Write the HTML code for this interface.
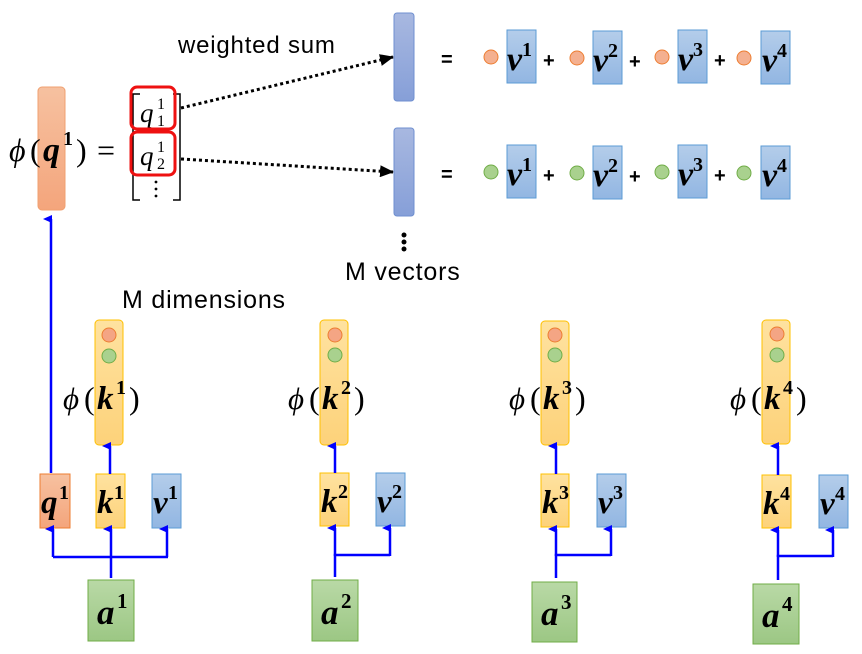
<!DOCTYPE html>
<html><head><meta charset="utf-8"><style>
html,body{margin:0;padding:0;background:#fff;}
svg{display:block;}
.m{font-family:"Liberation Serif",serif;font-style:italic;font-weight:bold;fill:#000;}
.p{font-family:"Liberation Serif",serif;font-style:italic;fill:#000;}
.r{font-family:"Liberation Serif",serif;fill:#000;}
.b{font-family:"Liberation Serif",serif;font-weight:bold;fill:#000;}
.s{font-family:"Liberation Sans",sans-serif;fill:#000;}
</style></head><body>
<svg width="862" height="654" viewBox="0 0 862 654" xmlns="http://www.w3.org/2000/svg">
<defs>
<linearGradient id="go" x1="0" y1="0" x2="0" y2="1"><stop offset="0" stop-color="#f6c1a0"/><stop offset="1" stop-color="#f4a57c"/></linearGradient>
<linearGradient id="gy" x1="0" y1="0" x2="0" y2="1"><stop offset="0" stop-color="#fee2a0"/><stop offset="1" stop-color="#fdd27a"/></linearGradient>
<linearGradient id="gb" x1="0" y1="0" x2="0" y2="1"><stop offset="0" stop-color="#b4cdea"/><stop offset="1" stop-color="#92b6e2"/></linearGradient>
<linearGradient id="gg" x1="0" y1="0" x2="0" y2="1"><stop offset="0" stop-color="#b9d9a6"/><stop offset="1" stop-color="#9cc784"/></linearGradient>
<linearGradient id="gd" x1="0" y1="0" x2="0" y2="1"><stop offset="0" stop-color="#a8b8e0"/><stop offset="1" stop-color="#869fd8"/></linearGradient>
<marker id="ab" markerWidth="8" markerHeight="9" refX="4" refY="8" orient="auto-start-reverse" markerUnits="userSpaceOnUse" viewBox="0 0 8 9"><path d="M0,9 L4,0 L8,9z" fill="#0000ff"/></marker>
<marker id="ak" markerWidth="14" markerHeight="12" refX="13" refY="6" orient="auto" markerUnits="userSpaceOnUse"><path d="M0,0 L14,6 L0,12z" fill="#000"/></marker>
</defs>

<!-- top left -->
<rect x="38" y="87" width="27" height="123" rx="4" fill="url(#go)" stroke="#f0a070" stroke-width="1"/>
<text x="9" y="161" class="p" font-size="32">ϕ</text>
<text x="30" y="161" class="r" font-size="32">(</text>
<text x="43" y="161" class="m" font-size="34">q</text>
<text x="63" y="145" class="b" font-size="20">1</text>
<text x="76" y="161" class="r" font-size="32">)</text>
<text x="97" y="161" class="r" font-size="32">=</text>
<!-- bracket -->
<path d="M140,94 L133,94 L133,200 L140,200" fill="none" stroke="#000" stroke-width="1.5"/>
<path d="M173,94 L180,94 L180,200 L173,200" fill="none" stroke="#000" stroke-width="1.5"/>
<text x="140" y="122" class="p" font-size="27">q</text>
<text x="157" y="109" class="r" font-size="16">1</text>
<text x="157" y="126" class="r" font-size="16">1</text>
<text x="140" y="165" class="p" font-size="27">q</text>
<text x="157" y="152" class="r" font-size="16">1</text>
<text x="157" y="169" class="r" font-size="16">2</text>
<circle cx="156" cy="182" r="1.4" fill="#000"/><circle cx="156" cy="189" r="1.4" fill="#000"/><circle cx="156" cy="196" r="1.4" fill="#000"/>
<rect x="131" y="87" width="44" height="42" rx="6" fill="none" stroke="#ee1111" stroke-width="3"/>
<rect x="131" y="132" width="44" height="43" rx="6" fill="none" stroke="#ee1111" stroke-width="3"/>
<line x1="181" y1="108" x2="393" y2="57" stroke="#000" stroke-width="3" stroke-dasharray="3,3" marker-end="url(#ak)"/>
<line x1="181" y1="159" x2="393" y2="172" stroke="#000" stroke-width="3" stroke-dasharray="3,3" marker-end="url(#ak)"/>
<text x="178" y="53" class="s" font-size="24" letter-spacing="0.8">weighted sum</text>
<rect x="394" y="13" width="20" height="88" rx="3" fill="url(#gd)" stroke="#6f8fd0"/>
<rect x="394" y="128" width="20" height="88" rx="3" fill="url(#gd)" stroke="#6f8fd0"/>
<circle cx="404" cy="235" r="2.5" fill="#000"/><circle cx="404" cy="242" r="2.5" fill="#000"/><circle cx="404" cy="249" r="2.5" fill="#000"/>
<text x="345" y="280" class="s" font-size="25" letter-spacing="0.8">M vectors</text>
<text x="122" y="308" class="s" font-size="25" letter-spacing="0.8">M dimensions</text>

<!-- right equations -->
<g>
<text x="441" y="66" class="s" font-size="20" font-weight="bold">=</text>
<circle cx="491" cy="57" r="7" fill="#f4b090" stroke="#ed7d31"/>
<rect x="507" y="30" width="29" height="53" fill="url(#gb)" stroke="#5b9bd5"/>
<text x="507" y="70" class="m" font-size="34">v</text><text x="522" y="56" class="b" font-size="20">1</text>
<text x="543" y="67" class="s" font-size="20" font-weight="bold">+</text>
<circle cx="577" cy="58" r="7" fill="#f4b090" stroke="#ed7d31"/>
<rect x="593" y="31" width="29" height="53" fill="url(#gb)" stroke="#5b9bd5"/>
<text x="593" y="71" class="m" font-size="34">v</text><text x="608" y="57" class="b" font-size="20">2</text>
<text x="629" y="68" class="s" font-size="20" font-weight="bold">+</text>
<circle cx="662" cy="57" r="7" fill="#f4b090" stroke="#ed7d31"/>
<rect x="678" y="30" width="29" height="53" fill="url(#gb)" stroke="#5b9bd5"/>
<text x="678" y="70" class="m" font-size="34">v</text><text x="693" y="56" class="b" font-size="20">3</text>
<text x="714" y="67" class="s" font-size="20" font-weight="bold">+</text>
<circle cx="744" cy="58" r="7" fill="#f4b090" stroke="#ed7d31"/>
<rect x="761" y="31" width="29" height="53" fill="url(#gb)" stroke="#5b9bd5"/>
<text x="762" y="71" class="m" font-size="34">v</text><text x="777" y="57" class="b" font-size="20">4</text>
</g>
<g transform="translate(0,115)">
<text x="441" y="66" class="s" font-size="20" font-weight="bold">=</text>
<circle cx="491" cy="57" r="7" fill="#a9d18e" stroke="#70ad47"/>
<rect x="507" y="30" width="29" height="53" fill="url(#gb)" stroke="#5b9bd5"/>
<text x="507" y="70" class="m" font-size="34">v</text><text x="522" y="56" class="b" font-size="20">1</text>
<text x="543" y="67" class="s" font-size="20" font-weight="bold">+</text>
<circle cx="577" cy="58" r="7" fill="#a9d18e" stroke="#70ad47"/>
<rect x="593" y="31" width="29" height="53" fill="url(#gb)" stroke="#5b9bd5"/>
<text x="593" y="71" class="m" font-size="34">v</text><text x="608" y="57" class="b" font-size="20">2</text>
<text x="629" y="68" class="s" font-size="20" font-weight="bold">+</text>
<circle cx="662" cy="57" r="7" fill="#a9d18e" stroke="#70ad47"/>
<rect x="678" y="30" width="29" height="53" fill="url(#gb)" stroke="#5b9bd5"/>
<text x="678" y="70" class="m" font-size="34">v</text><text x="693" y="56" class="b" font-size="20">3</text>
<text x="714" y="67" class="s" font-size="20" font-weight="bold">+</text>
<circle cx="744" cy="58" r="7" fill="#a9d18e" stroke="#70ad47"/>
<rect x="761" y="31" width="29" height="53" fill="url(#gb)" stroke="#5b9bd5"/>
<text x="762" y="71" class="m" font-size="34">v</text><text x="777" y="57" class="b" font-size="20">4</text>
</g>

<!-- q line -->
<line x1="51" y1="473" x2="51" y2="219" stroke="#0000ff" stroke-width="2.5" marker-end="url(#ab)"/>

<!-- group 1 -->
<rect x="95" y="320" width="28" height="125" rx="4" fill="url(#gy)" stroke="#ffc000"/>
<circle cx="109" cy="335" r="7" fill="#f4a584" stroke="#ed7d31"/>
<circle cx="109" cy="356" r="7" fill="#a9d18e" stroke="#70ad47"/>
<text x="63" y="409" class="p" font-size="31">ϕ</text><text x="84" y="409" class="r" font-size="32">(</text>
<text x="97" y="409" class="m" font-size="33">k</text><text x="116" y="394" class="b" font-size="20">1</text>
<text x="129" y="409" class="r" font-size="32">)</text>
<rect x="40" y="474" width="30" height="54" fill="url(#go)" stroke="#ed7d31"/>
<text x="41" y="513" class="m" font-size="33">q</text><text x="59" y="499" class="b" font-size="20">1</text>
<rect x="96" y="474" width="29" height="54" fill="url(#gy)" stroke="#ffc000"/>
<text x="97" y="513" class="m" font-size="33">k</text><text x="114" y="499" class="b" font-size="20">1</text>
<rect x="152" y="474" width="29" height="54" fill="url(#gb)" stroke="#5b9bd5"/>
<text x="153" y="513" class="m" font-size="33">v</text><text x="168" y="499" class="b" font-size="20">1</text>
<rect x="88" y="580" width="46" height="61" fill="url(#gg)" stroke="#70ad47"/>
<text x="97" y="624" class="m" font-size="35">a</text><text x="117" y="608" class="b" font-size="21">1</text>
<line x1="110" y1="474" x2="110" y2="446" stroke="#0000ff" stroke-width="2.5" marker-end="url(#ab)"/>
<path d="M111,578 L111,557" stroke="#0000ff" stroke-width="2.5"/>
<path d="M53,557 L168,557" stroke="#0000ff" stroke-width="2.5" fill="none"/>
<line x1="53" y1="557" x2="53" y2="529" stroke="#0000ff" stroke-width="2.5" marker-end="url(#ab)"/>
<line x1="111" y1="557" x2="111" y2="529" stroke="#0000ff" stroke-width="2.5" marker-end="url(#ab)"/>
<line x1="167" y1="557" x2="167" y2="529" stroke="#0000ff" stroke-width="2.5" marker-end="url(#ab)"/>

<!-- group 2 -->
<rect x="320" y="320" width="28" height="125" rx="4" fill="url(#gy)" stroke="#ffc000"/>
<circle cx="335" cy="335" r="7" fill="#f4a584" stroke="#ed7d31"/>
<circle cx="335" cy="355" r="7" fill="#a9d18e" stroke="#70ad47"/>
<text x="288" y="409" class="p" font-size="31">ϕ</text><text x="309" y="409" class="r" font-size="32">(</text>
<text x="322" y="409" class="m" font-size="33">k</text><text x="341" y="394" class="b" font-size="20">2</text>
<text x="354" y="409" class="r" font-size="32">)</text>
<rect x="320" y="473" width="29" height="53" fill="url(#gy)" stroke="#ffc000"/>
<text x="321" y="512" class="m" font-size="33">k</text><text x="338" y="498" class="b" font-size="20">2</text>
<rect x="376" y="473" width="29" height="53" fill="url(#gb)" stroke="#5b9bd5"/>
<text x="377" y="512" class="m" font-size="33">v</text><text x="392" y="498" class="b" font-size="20">2</text>
<rect x="312" y="580" width="46" height="61" fill="url(#gg)" stroke="#70ad47"/>
<text x="321" y="624" class="m" font-size="35">a</text><text x="341" y="608" class="b" font-size="21">2</text>
<line x1="335" y1="473" x2="335" y2="446" stroke="#0000ff" stroke-width="2.5" marker-end="url(#ab)"/>
<path d="M335,577 L335,555 L390,555" stroke="#0000ff" stroke-width="2.5" fill="none"/>
<line x1="335" y1="556" x2="335" y2="528" stroke="#0000ff" stroke-width="2.5" marker-end="url(#ab)"/>
<line x1="390" y1="556" x2="390" y2="528" stroke="#0000ff" stroke-width="2.5" marker-end="url(#ab)"/>

<!-- group 3 -->
<rect x="541" y="321" width="28" height="124" rx="4" fill="url(#gy)" stroke="#ffc000"/>
<circle cx="555" cy="335" r="7" fill="#f4a584" stroke="#ed7d31"/>
<circle cx="555" cy="355" r="7" fill="#a9d18e" stroke="#70ad47"/>
<text x="509" y="409" class="p" font-size="31">ϕ</text><text x="530" y="409" class="r" font-size="32">(</text>
<text x="543" y="409" class="m" font-size="33">k</text><text x="562" y="394" class="b" font-size="20">3</text>
<text x="575" y="409" class="r" font-size="32">)</text>
<rect x="541" y="474" width="28" height="53" fill="url(#gy)" stroke="#ffc000"/>
<text x="542" y="513" class="m" font-size="33">k</text><text x="559" y="499" class="b" font-size="20">3</text>
<rect x="597" y="474" width="29" height="53" fill="url(#gb)" stroke="#5b9bd5"/>
<text x="598" y="513" class="m" font-size="33">v</text><text x="613" y="499" class="b" font-size="20">3</text>
<rect x="532" y="582" width="45" height="60" fill="url(#gg)" stroke="#70ad47"/>
<text x="541" y="625" class="m" font-size="35">a</text><text x="561" y="609" class="b" font-size="21">3</text>
<line x1="556" y1="474" x2="556" y2="446" stroke="#0000ff" stroke-width="2.5" marker-end="url(#ab)"/>
<path d="M556,578 L556,555 L611,555" stroke="#0000ff" stroke-width="2.5" fill="none"/>
<line x1="556" y1="556" x2="556" y2="529" stroke="#0000ff" stroke-width="2.5" marker-end="url(#ab)"/>
<line x1="611" y1="556" x2="611" y2="529" stroke="#0000ff" stroke-width="2.5" marker-end="url(#ab)"/>

<!-- group 4 -->
<rect x="762" y="320" width="28" height="124" rx="4" fill="url(#gy)" stroke="#ffc000"/>
<circle cx="777" cy="334" r="7" fill="#f4a584" stroke="#ed7d31"/>
<circle cx="777" cy="355" r="7" fill="#a9d18e" stroke="#70ad47"/>
<text x="730" y="409" class="p" font-size="31">ϕ</text><text x="751" y="409" class="r" font-size="32">(</text>
<text x="764" y="409" class="m" font-size="33">k</text><text x="783" y="394" class="b" font-size="20">4</text>
<text x="796" y="409" class="r" font-size="32">)</text>
<rect x="762" y="475" width="29" height="53" fill="url(#gy)" stroke="#ffc000"/>
<text x="763" y="514" class="m" font-size="33">k</text><text x="780" y="500" class="b" font-size="20">4</text>
<rect x="819" y="475" width="29" height="53" fill="url(#gb)" stroke="#5b9bd5"/>
<text x="820" y="514" class="m" font-size="33">v</text><text x="835" y="500" class="b" font-size="20">4</text>
<rect x="753" y="584" width="46" height="60" fill="url(#gg)" stroke="#70ad47"/>
<text x="762" y="627" class="m" font-size="35">a</text><text x="782" y="611" class="b" font-size="21">4</text>
<line x1="778" y1="475" x2="778" y2="446" stroke="#0000ff" stroke-width="2.5" marker-end="url(#ab)"/>
<path d="M778,580 L778,556 L833,556" stroke="#0000ff" stroke-width="2.5" fill="none"/>
<line x1="778" y1="557" x2="778" y2="530" stroke="#0000ff" stroke-width="2.5" marker-end="url(#ab)"/>
<line x1="833" y1="557" x2="833" y2="530" stroke="#0000ff" stroke-width="2.5" marker-end="url(#ab)"/>
</svg>
</body></html>
